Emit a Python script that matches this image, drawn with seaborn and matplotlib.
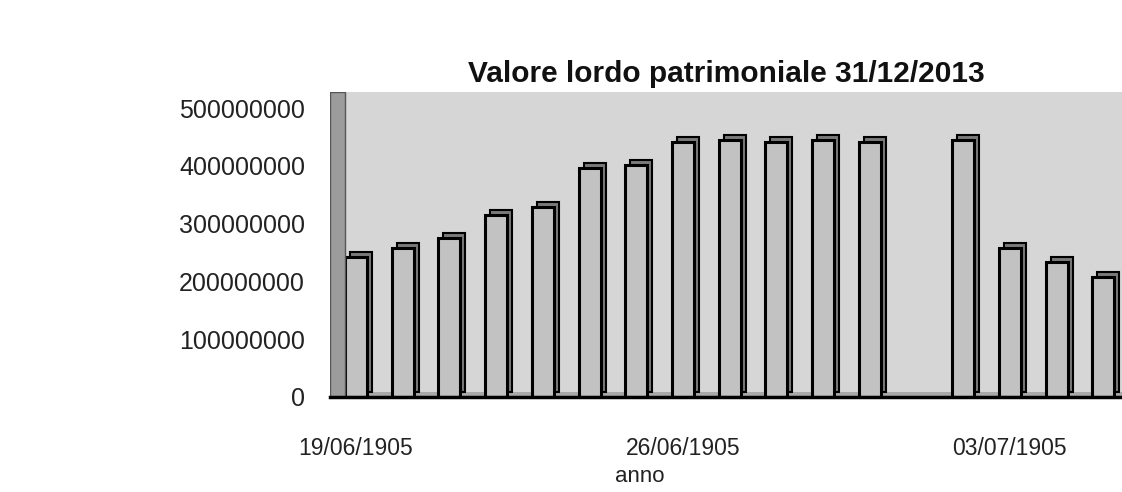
import matplotlib
matplotlib.use("Agg")
import matplotlib.pyplot as plt
import matplotlib.transforms as mtransforms
from matplotlib.patches import Rectangle
import seaborn as sns
import pandas as pd

# dati (anno come numero; in Excel letto come data seriale)
anni = [1997, 1998, 1999, 2000, 2001, 2002, 2003, 2004,
        2005, 2006, 2007, 2008, 2010, 2011, 2012, 2013]
valori = [242e6, 258e6, 275e6, 315e6, 329e6, 396e6, 401e6, 441e6,
          445e6, 441e6, 445e6, 441e6, 445e6, 258e6, 234e6, 208e6]
tick_pos = [1997, 2004, 2011]
tick_labels = ["19/06/1905", "26/06/1905", "03/07/1905"]
y_ticks = [0, 100000000, 200000000, 300000000, 400000000, 500000000]

df = pd.DataFrame({"anno": anni, "valore": valori})

sns.set_theme(style="white")
plt.rcParams["font.family"] = ["Liberation Sans", "DejaVu Sans"]

fig = plt.figure(figsize=(11.22, 4.92), dpi=100)
W, H = 1122, 492
ax = fig.add_axes([330 / W, 95 / H, 1 - 330 / W, 305 / H])
ax.set_facecolor("#d6d6d6")

# profondita' finta: barre piu' scure spostate in alto a destra
sns.barplot(data=df, x="anno", y="valore", native_scale=True, width=0.47,
            color="#7a7a7a", edgecolor="black", linewidth=1.5,
            saturation=1, ax=ax)
shift = mtransforms.offset_copy(ax.transData, fig=fig, x=5, y=5, units="dots")
for p in ax.patches:
    p.set_transform(shift)

sns.barplot(data=df, x="anno", y="valore", native_scale=True, width=0.47,
            color="#c2c2c2", edgecolor="black", linewidth=2.2,
            saturation=1, ax=ax)

# pavimento e parete sinistra
ax.add_patch(Rectangle((0, 0), 1, 0.018, transform=ax.transAxes,
                       facecolor="#a9a9a9", edgecolor="none", zorder=0.5))
ax.add_patch(Rectangle((0, 0), 0.019, 1, transform=ax.transAxes,
                       facecolor="#9c9c9c", edgecolor="#555555",
                       linewidth=1, zorder=3))

ax.set_xlim(1997 - 0.557, 2013.4)
ax.set_ylim(0, 528e6)
ax.set_yticks(y_ticks)
ax.set_yticklabels([str(v) for v in y_ticks])
ax.set_xticks(tick_pos)
ax.set_xticklabels(tick_labels)
ax.tick_params(axis="y", length=0, pad=18, labelsize=18, colors="#222222")
ax.tick_params(axis="x", length=0, pad=29, labelsize=16.5, colors="#222222")

for side in ["top", "right"]:
    ax.spines[side].set_visible(False)
ax.spines["left"].set_visible(False)
ax.spines["bottom"].set_color("black")
ax.spines["bottom"].set_linewidth(2.5)
ax.spines["bottom"].set_zorder(4)

ax.set_xlabel("anno", fontsize=16, color="#222222")
ax.xaxis.set_label_coords((640 - 330) / 792, -0.225)
ax.set_ylabel("")
ax.set_title("Valore lordo patrimoniale 31/12/2013", fontsize=21.5,
             fontweight="bold", color="#111111", pad=7)

fig.savefig("out.png", dpi=100)
